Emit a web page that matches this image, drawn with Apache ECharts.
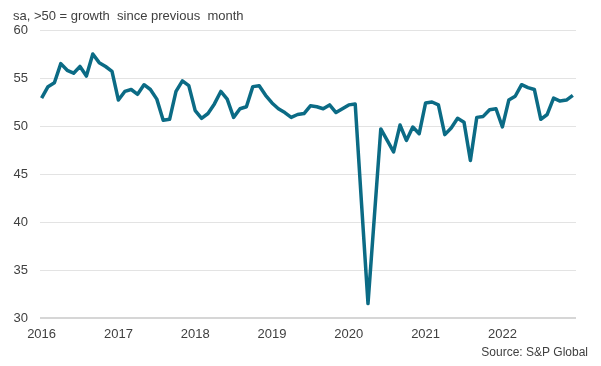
<!DOCTYPE html>
<html>
<head>
<meta charset="utf-8">
<script src="https://cdn.jsdelivr.net/npm/echarts@6/dist/echarts.min.js"></script>
<style>
html,body{margin:0;padding:0;background:#fff;}
#c{width:601px;height:366px;}
</style>
</head>
<body>
<div id="c"></div>
<script>
// Monthly values, Jan 2016 .. Dec 2022
const years = ['2016','2017','2018','2019','2020','2021','2022'];
const v2016 = [52.9,54.1,54.5,56.5,55.8,55.5,56.2,55.2,57.5,56.6,56.2,55.7];
const v2017 = [52.7,53.6,53.8,53.3,54.3,53.8,52.8,50.6,50.7,53.6,54.7,54.2];
const v2018 = [51.6,50.8,51.3,52.3,53.6,52.8,50.9,51.8,52.0,54.1,54.2,53.2];
const v2019 = [52.4,51.8,51.4,50.9,51.2,51.3,52.1,52.0,51.8,52.2,51.4,51.8];
const v2020 = [52.2,52.3,41.8,31.5,40.6,49.7,48.5,47.3,50.1,48.5,49.9,49.2];
const v2021 = [52.4,52.5,52.2,49.1,49.8,50.8,50.4,46.4,50.9,51.0,51.7,51.8];
const v2022 = [49.9,52.7,53.1,54.3,54.0,53.8,50.7,51.2,52.9,52.6,52.7,53.2];
const yTicks = [30,35,40,45,50,55,60];
const titleText = 'sa, >50 = growth  since previous  month';
const sourceText = 'Source: S&P Global';

const all = [].concat(v2016,v2017,v2018,v2019,v2020,v2021,v2022);
const data = all.map((v,i)=>[i,v]);
const yearPos = years.map((y,i)=>i*12);

const font = "'Liberation Sans', Arial, sans-serif";
const chart = echarts.init(document.getElementById('c'), null, {renderer:'canvas'});
chart.setOption({
  animation:false,
  title:{
    text:titleText, left:13, top:10, padding:0,
    textStyle:{fontSize:13, fontWeight:'normal', color:'#404040', fontFamily:font}
  },
  graphic:[{
    type:'text', right:13, top:347,
    style:{text:sourceText, fontSize:12, fill:'#404040', fontFamily:font}
  }],
  grid:{left:40, right:25, top:30, bottom:48},
  xAxis:{
    type:'value', min:-0.25, max:83.5,
    axisLine:{show:false},
    axisTick:{show:false},
    splitLine:{show:false},
    axisLabel:{
      customValues:yearPos,
      formatter:(v)=>years[Math.round(v/12)],
      fontSize:13, color:'#404040', fontFamily:font, margin:10
    }
  },
  yAxis:{
    type:'value', min:30, max:60, interval:5,
    axisLine:{show:false},
    axisTick:{show:false},
    axisLabel:{
      customValues:yTicks,
      fontSize:13, color:'#404040', fontFamily:font, margin:12
    },
    splitLine:{lineStyle:{color:'#e3e3e3', width:1}}
  },
  series:[{
    type:'line', data:data, showSymbol:false, symbol:'none',
    lineStyle:{color:'#0b6b85', width:3.5, join:'round'},
    markLine:{
      silent:true, symbol:'none', label:{show:false},
      lineStyle:{color:'#d6d6d6', width:2, type:'solid'},
      data:[{yAxis:30}]
    }
  }]
});
</script>
</body>
</html>
